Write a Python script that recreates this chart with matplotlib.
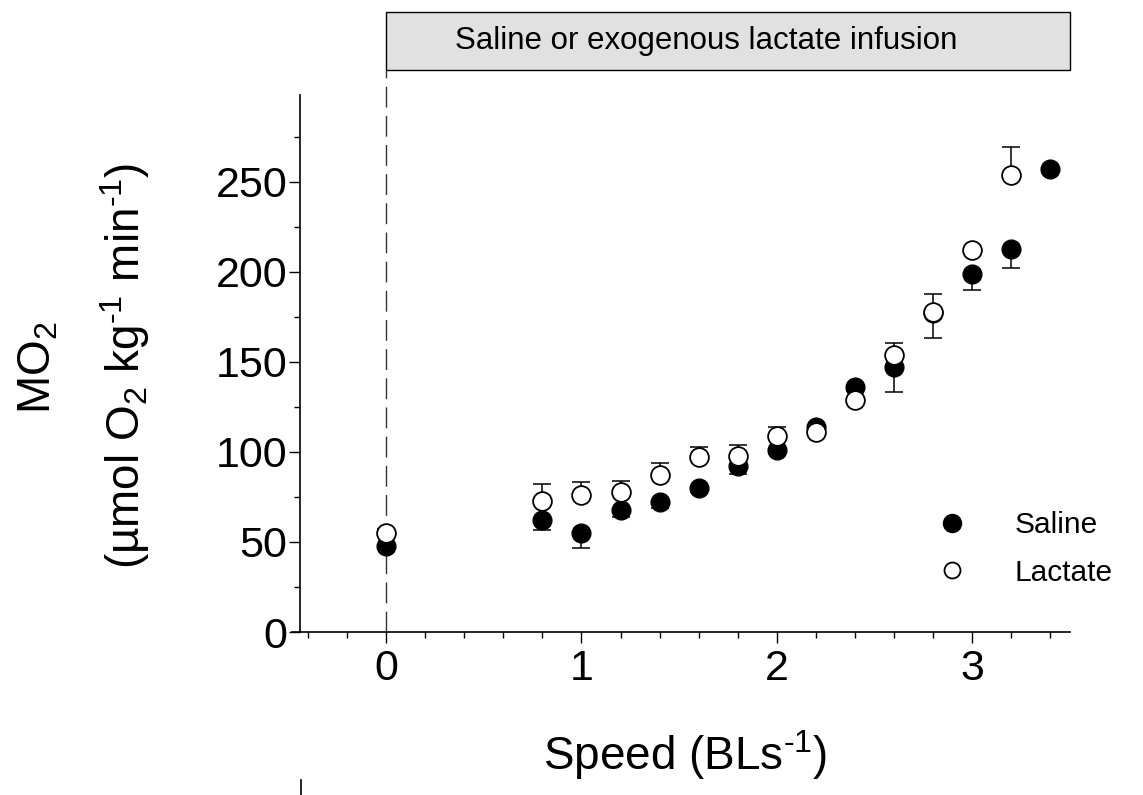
import matplotlib
matplotlib.use("Agg")
import matplotlib.pyplot as plt
from matplotlib.patches import Rectangle
from matplotlib.lines import Line2D

plt.rcParams['font.family'] = ['Liberation Sans', 'DejaVu Sans']
plt.rcParams['mathtext.fontset'] = 'custom'
plt.rcParams['mathtext.rm'] = 'Liberation Sans'
plt.rcParams['mathtext.it'] = 'Liberation Sans'

# ---- data ----
saline_speed = [0, 0.8, 1.0, 1.2, 1.4, 1.6, 1.8, 2.0, 2.2, 2.4, 2.6, 2.8, 3.0, 3.2, 3.4]
saline_mo2 = [48, 62, 55, 68, 72, 80, 92, 101, 114, 136, 147, 177, 199, 213, 257]
saline_se = [2, 5.5, 8.5, 4, 3, 2.5, 4, 2, 2, 2, 13.5, 13.5, 9, 11, 2]

lactate_speed = [0, 0.8, 1.0, 1.2, 1.4, 1.6, 1.8, 2.0, 2.2, 2.4, 2.6, 2.8, 3.0, 3.2]
lactate_mo2 = [55, 73, 76, 78, 87, 97, 98, 109, 111, 129, 154, 178, 212, 254]
lactate_se = [2, 9, 7.5, 6, 7, 6, 6, 5, 2, 1, 6.5, 10, 1, 15.5]

x_ticks = [0, 1, 2, 3]
y_ticks = [0, 50, 100, 150, 200, 250]
series_labels = ['Saline', 'Lactate']
box_text = 'Saline or exogenous lactate infusion'

W, H = 1143, 795
fig = plt.figure(figsize=(W / 100, H / 100), dpi=100)
ax = fig.add_axes([300 / W, 1 - 632 / H, (1070 - 300) / W, (632 - 95) / H])

ax.set_xlim(-0.44, 3.5)
ax.set_ylim(0, 298.3)

ms = 13.5
cap_ms = 12.5
lw_e = 1.1

# saline: error bars downward
s_low = [m - e for m, e in zip(saline_mo2, saline_se)]
ax.vlines(saline_speed, s_low, saline_mo2, color='black', lw=lw_e, zorder=2)
ax.plot(saline_speed, s_low, ls='none', marker='_', markersize=cap_ms,
        markeredgewidth=lw_e, color='black', zorder=2)
ax.plot(saline_speed, saline_mo2, ls='none', marker='o', markersize=ms,
        markerfacecolor='black', markeredgecolor='black', zorder=3)

# lactate: error bars upward
l_high = [m + e for m, e in zip(lactate_mo2, lactate_se)]
ax.vlines(lactate_speed, lactate_mo2, l_high, color='black', lw=lw_e, zorder=3.5)
ax.plot(lactate_speed, l_high, ls='none', marker='_', markersize=cap_ms,
        markeredgewidth=lw_e, color='black', zorder=3.5)
ax.plot(lactate_speed, lactate_mo2, ls='none', marker='o', markersize=ms,
        markerfacecolor='white', markeredgecolor='black', markeredgewidth=1.3,
        zorder=4)

# axes styling
for s in ['top', 'right']:
    ax.spines[s].set_visible(False)
for s in ['left', 'bottom']:
    ax.spines[s].set_linewidth(1.2)
ax.spines['bottom'].set_bounds(-0.48, 3.5)

ax.set_xticks(x_ticks)
ax.set_xticks([v / 5 for v in range(-2, 18)], minor=True)
ax.set_yticks(y_ticks)
ax.set_yticks([25 * k + 25 for k in range(0, 11, 2)], minor=True)
ax.tick_params(axis='both', which='major', direction='out', length=8, width=1.0,
               labelsize=31, colors='black')
ax.tick_params(axis='both', which='minor', direction='out', length=4.5, width=1.0)
ax.tick_params(axis='x', which='major', pad=4)
ax.tick_params(axis='y', which='major', pad=1)

# dashed line at infusion start
ax.plot([0, 0], [0, 312.2], color='#333333', lw=1.0, dashes=(15, 6), clip_on=False,
        zorder=1)

# infusion box
rect = Rectangle((0, 312.2), 3.5, 32.2, facecolor='#e1e1e1', edgecolor='black',
                 lw=1.0, clip_on=False, zorder=5)
ax.add_patch(rect)
ax.text(1.64, 328.3, box_text, ha='center', va='center', fontsize=22.5, zorder=6)

# labels
fig.text(38 / W, 1 - 368 / H, r'MO$_2$', rotation=90, ha='center', va='center',
         fontsize=33)
fig.text(125 / W, 1 - 366 / H, r'(µmol O$_2$ kg$^{\text{-1}}$ min$^{\text{-1}}$)',
         rotation=90, ha='center', va='center', fontsize=33)
fig.text(685 / W, 1 - 755 / H, r'Speed (BLs$^{\text{-1}}$)', ha='center', va='center',
         fontsize=33)

# legend
handles = [Line2D([], [], marker='o', ls='none', markersize=13, markerfacecolor='black',
                  markeredgecolor='black'),
           Line2D([], [], marker='o', ls='none', markersize=11.5, markerfacecolor='white',
                  markeredgecolor='black', markeredgewidth=1.3)]
leg = ax.legend(handles, series_labels, loc='upper left',
                bbox_to_anchor=(937 / W, 1 - 511 / H), bbox_transform=fig.transFigure,
                frameon=False, fontsize=21.5, handlelength=1.0, handletextpad=1.6,
                labelspacing=0.66, borderpad=0, borderaxespad=0)

# small stray mark at bottom
fig.add_artist(Line2D([301 / W, 301 / W], [0, 15 / H], color='black', lw=1.2,
                      transform=fig.transFigure))

fig.savefig('out.png', dpi=100)
